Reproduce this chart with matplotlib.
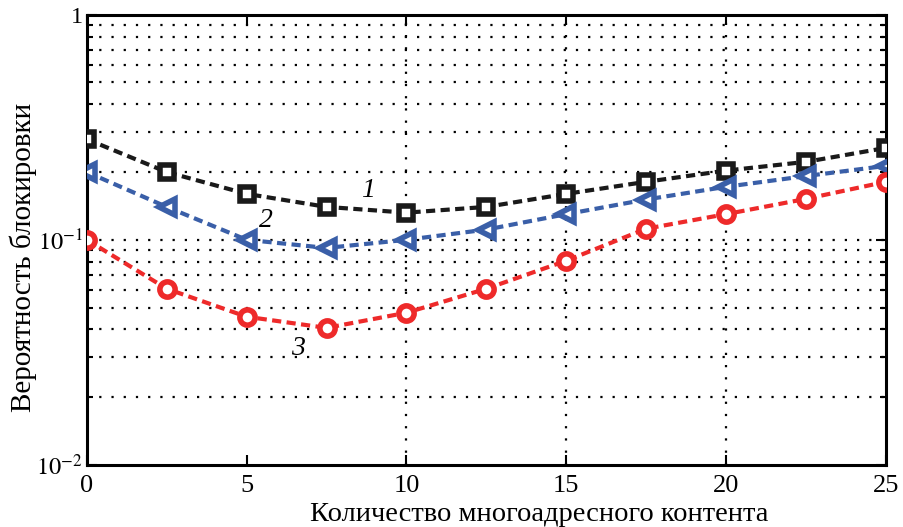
import numpy as np
import matplotlib
matplotlib.use('Agg')
import matplotlib.pyplot as plt
from matplotlib.ticker import FixedLocator, NullFormatter

plt.rcParams['font.family'] = ['Liberation Serif', 'DejaVu Serif']
plt.rcParams['mathtext.fontset'] = 'stix'

x = [0, 2.5, 5, 7.5, 10, 12.5, 15, 17.5, 20, 22.5, 25]
curve1 = [0.28, 0.20, 0.16, 0.14, 0.132, 0.14, 0.16, 0.181, 0.203, 0.222, 0.256]
curve2 = [0.20, 0.14, 0.10, 0.092, 0.10, 0.111, 0.13, 0.151, 0.172, 0.192, 0.213]
curve3 = [0.10, 0.0606, 0.0455, 0.0406, 0.0474, 0.0606, 0.0807, 0.112, 0.13, 0.152, 0.181]
curve_labels = ['1', '2', '3']
label_pos = [(8.8, 0.165), (5.6, 0.122), (6.6, 0.033)]

xlabel = 'Количество многоадресного контента'
ylabel = 'Вероятность блокировки'

fig = plt.figure(figsize=(9.04, 5.27), dpi=100)
ax = fig.add_axes([0.096, 0.118, 0.884, 0.854])
ax.set_yscale('log')
ax.set_xlim(0, 25)
ax.set_ylim(0.01, 1)

# dotted grid, like the Matlab original
grid_style = dict(color='black', linestyle=(0, (1, 4.5)), linewidth=1.6, zorder=1)
for v in [10, 15, 20]:
    ax.axvline(v, **grid_style)
for dec in [0.01, 0.1]:
    for m in range(2, 10):
        ax.axhline(dec * m, **grid_style)
ax.axhline(0.1, **grid_style)

ds = (0, (2.2, 1.3))
ax.plot(x, curve1, color='#1a1a1a', linestyle=ds, linewidth=3, marker='s',
        markersize=10, markerfacecolor='white', markeredgewidth=4, zorder=3)
ax.plot(x, curve2, color='#3a5fa8', linestyle=ds, linewidth=3, marker='<',
        markersize=12, markerfacecolor='white', markeredgewidth=4, zorder=3)
ax.plot(x, curve3, color='#ee2a2a', linestyle=ds, linewidth=3, marker='o',
        markersize=11, markerfacecolor='white', markeredgewidth=4, zorder=3)

for lab, (lx, ly) in zip(curve_labels, label_pos):
    ax.text(lx, ly, lab, fontsize=20, style='italic', ha='center', va='center')

ax.set_xticks([0, 5, 10, 15, 20, 25])
ax.yaxis.set_major_locator(FixedLocator([0.01, 0.1, 1]))
ax.set_yticklabels([r'$10^{-2}$', r'$10^{-1}$', '1'])
minor = [d * m for d in [0.01, 0.1] for m in range(2, 10)]
ax.yaxis.set_minor_locator(FixedLocator(minor))
ax.yaxis.set_minor_formatter(NullFormatter())
ax.tick_params(which='both', direction='in', top=True, right=True, width=1.5)
ax.tick_params(axis='x', pad=7, labelsize=19)
ax.tick_params(axis='y', pad=3, labelsize=17.5)
ax.tick_params(which='major', length=7)
ax.tick_params(which='minor', length=4)
for sp in ax.spines.values():
    sp.set_linewidth(2.2)

ax.set_xlabel(xlabel, fontsize=20.5)
ax.set_ylabel(ylabel, fontsize=21)
ax.xaxis.set_label_coords(0.566, -0.082)
ax.yaxis.set_label_coords(-0.08, 0.46)
ax.yaxis.label.set_va('center')

fig.savefig('out.png', dpi=100)
